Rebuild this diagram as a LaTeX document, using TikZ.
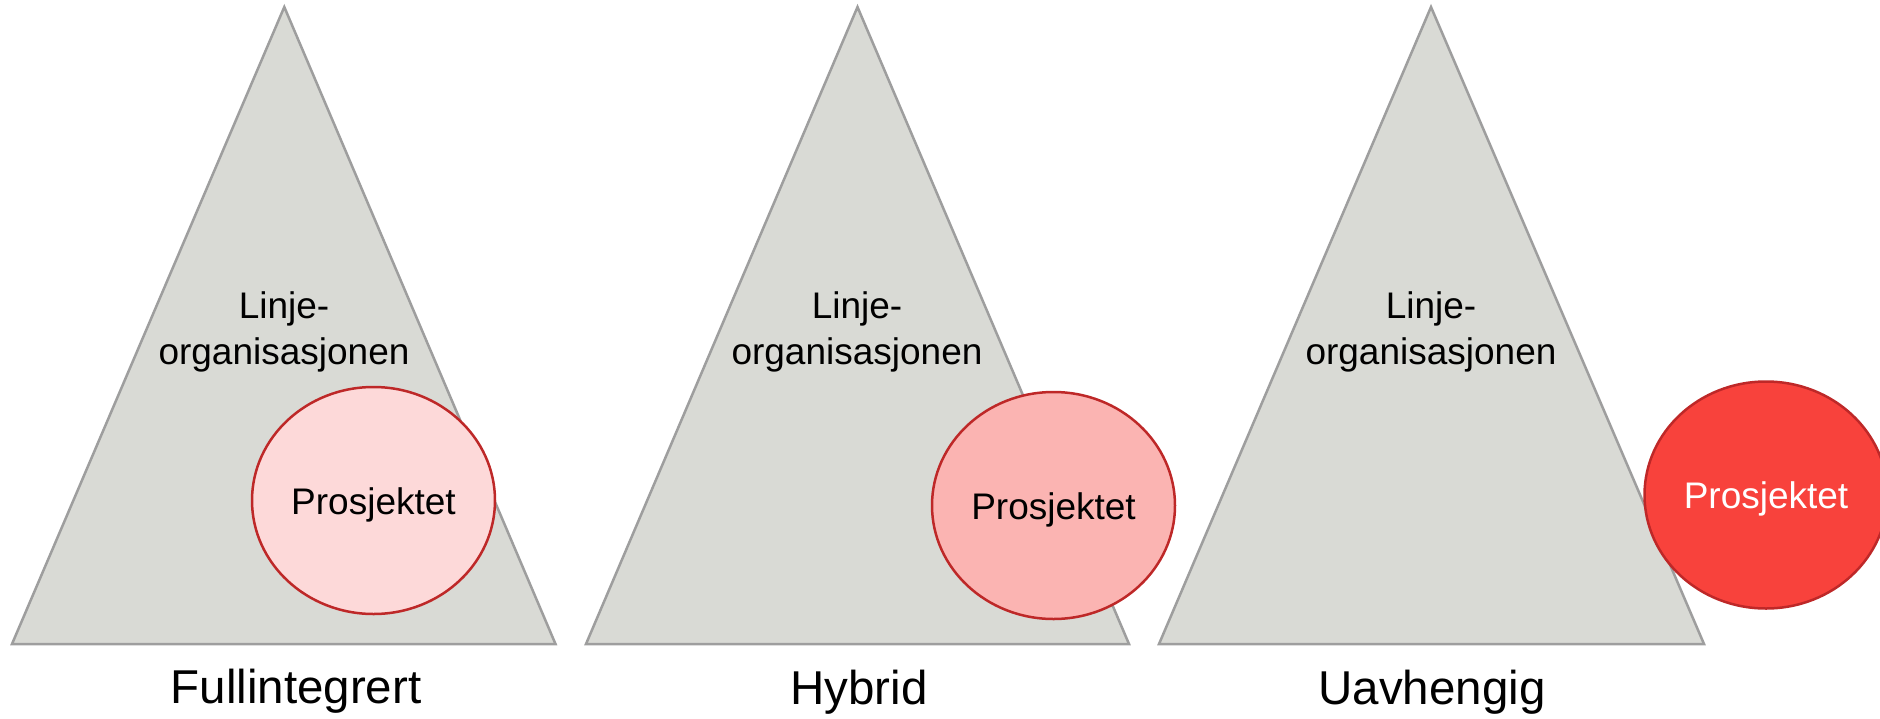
\documentclass[tikz,border=0pt]{standalone}
\usepackage{fontspec}
\setmainfont{Liberation Sans}
\usetikzlibrary{shapes.geometric}

\definecolor{trifill}{RGB}{217,218,213}
\definecolor{tridraw}{RGB}{158,158,158}
\definecolor{projdraw}{RGB}{190,40,40}
\definecolor{projA}{RGB}{253,217,217}
\definecolor{projB}{RGB}{251,180,178}
\definecolor{projC}{RGB}{248,66,60}

\tikzset{
  pyramid/.style={fill=trifill, draw=tridraw, line width=2.5pt, line join=miter},
  projbody/.style={ellipse, draw=projdraw, line width=2.5pt, inner sep=0pt,
                   minimum width=243pt, minimum height=227pt},
  inner/.style={font=\fontsize{37}{46}\selectfont, inner sep=0pt, anchor=base},
  caption/.style={font=\fontsize{47.5}{56}\selectfont, inner sep=0pt, anchor=base},
}

\begin{document}
\begin{tikzpicture}[x=1pt, y=-1pt]
  \useasboundingbox (0,0) rectangle (1880,718);
  \clip (0,0) rectangle (1880,718);

  % --- Fullintegrert ---
  \draw[pyramid] (12,644) -- (284.3,7) -- (555.5,644) -- cycle;
  \node[inner] (l1a) at (284,318) {Linje-};
  \node[inner] (l1b) at (284,364) {organisasjonen};
  \node[projbody, fill=projA] (p1) at (373.5,500.5) {};
  \node[inner] (t1) at ([yshift=-13.5pt]p1.center) {Prosjektet};
  \node[caption] (c1) at (296,703) {Fullintegrert};

  % --- Hybrid ---
  \draw[pyramid] (586,644) -- (857.5,7) -- (1129,644) -- cycle;
  \node[inner] (l2a) at (857,318) {Linje-};
  \node[inner] (l2b) at (857,364) {organisasjonen};
  \node[projbody, fill=projB] (p2) at (1053.5,505.5) {};
  \node[inner] (t2) at ([yshift=-13.5pt]p2.center) {Prosjektet};
  \node[caption] (c2) at (859,704) {Hybrid};

  % --- Uavhengig ---
  \draw[pyramid] (1159,644) -- (1431,7) -- (1704,644) -- cycle;
  \node[inner] (l3a) at (1431,318) {Linje-};
  \node[inner] (l3b) at (1431,364) {organisasjonen};
  \node[projbody, fill=projC] (p3) at (1766,495) {};
  \node[inner, text=white] (t3) at ([yshift=-13.5pt]p3.center) {Prosjektet};
  \node[caption] (c3) at (1432,704) {Uavhengig};
\end{tikzpicture}
\end{document}
